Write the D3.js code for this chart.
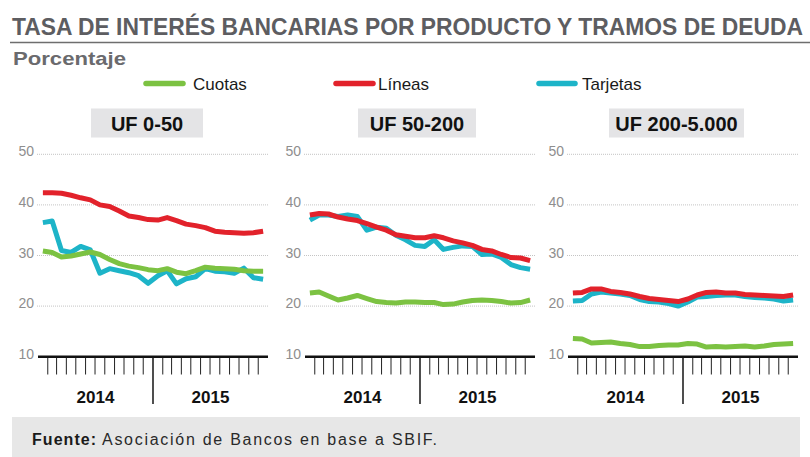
<!DOCTYPE html>
<html>
<head>
<meta charset="utf-8">
<script src="https://cdn.jsdelivr.net/npm/d3@7"></script>
<style>
  html, body { margin: 0; padding: 0; background: #fff; }
  svg { display: block; }
  text { font-family: "Liberation Sans", Arial, sans-serif; }
</style>
</head>
<body>
<svg id="chart" width="810" height="457"></svg>
<script>
// ---------- DATA ----------
const title = "TASA DE INTERÉS BANCARIAS POR PRODUCTO Y TRAMOS DE DEUDA";
const subtitle = "Porcentaje";
const seriesNames = ["Cuotas", "Líneas", "Tarjetas"];
const panelTitles = ["UF 0-50", "UF 50-200", "UF 200-5.000"];
const yTicks = [10, 20, 30, 40, 50];
const yearLabels = ["2014", "2015"];
const months = ["2014-01","2014-02","2014-03","2014-04","2014-05","2014-06",
                "2014-07","2014-08","2014-09","2014-10","2014-11","2014-12",
                "2015-01","2015-02","2015-03","2015-04","2015-05","2015-06",
                "2015-07","2015-08","2015-09","2015-10","2015-11","2015-12"];

const cuotas_0_50   = [30.9,30.6,29.7,29.9,30.3,30.7,30.2,29.2,28.4,27.9,27.6,27.2,27.0,27.4,26.7,26.4,27.0,27.7,27.5,27.4,27.3,27.0,26.9,26.9];
const lineas_0_50   = [42.4,42.4,42.3,41.9,41.4,41.0,40.0,39.7,38.8,37.8,37.5,37.1,37.0,37.5,36.9,36.2,35.9,35.5,34.8,34.6,34.5,34.4,34.5,34.8];
const tarjetas_0_50 = [36.5,36.8,31.0,30.6,31.8,31.1,26.5,27.4,27.0,26.6,26.0,24.5,26.0,27.0,24.4,25.4,25.8,27.4,26.9,26.8,26.5,27.5,25.6,25.3];

const cuotas_50_200   = [22.6,22.8,22.0,21.2,21.6,22.1,21.5,20.9,20.7,20.6,20.8,20.8,20.7,20.7,20.3,20.4,20.8,21.1,21.2,21.1,20.9,20.6,20.7,21.2];
const lineas_50_200   = [38.0,38.3,38.2,37.6,37.2,36.9,36.3,35.6,35.0,34.1,33.8,33.5,33.5,33.9,33.5,32.9,32.5,32.0,31.2,30.9,30.2,29.6,29.5,29.0];
const tarjetas_50_200 = [37.0,38.0,38.0,37.7,38.0,37.7,35.0,35.6,35.4,34.0,33.1,32.0,31.8,33.1,31.2,31.6,31.9,31.8,30.2,30.3,29.6,28.2,27.6,27.3];

const cuotas_200_5000   = [13.6,13.5,12.7,12.8,12.9,12.6,12.4,12.0,12.0,12.2,12.3,12.3,12.6,12.5,11.9,12.0,11.9,12.0,12.1,11.9,12.1,12.4,12.5,12.6];
const lineas_200_5000   = [22.6,22.7,23.4,23.4,22.9,22.7,22.4,21.9,21.5,21.3,21.1,20.9,21.4,22.2,22.7,22.8,22.6,22.6,22.3,22.2,22.1,22.0,21.9,22.2];
const tarjetas_200_5000 = [21.0,21.1,22.4,22.8,22.6,22.4,22.1,21.3,20.9,20.8,20.5,20.0,20.8,21.8,21.9,22.1,22.2,22.2,21.9,21.7,21.6,21.4,21.0,21.2];

const sourceLabel = "Fuente:";
const sourceText = "Asociación de Bancos en base a SBIF.";

// ---------- STYLE / LAYOUT ----------
const colors = { "Cuotas": "#7cc242", "Líneas": "#e2222b", "Tarjetas": "#1db4c8" };
const drawOrder = ["Tarjetas", "Cuotas", "Líneas"];
const panelX = [38, 305, 568];
const panelW = 230;
const headerBoxes = [[91, 112], [358, 118], [609, 135]];
const legendPos = [[146, 183, 193], [336, 373, 378], [539, 575, 582]];

const panels = [
  { title: panelTitles[0], series: { "Cuotas": cuotas_0_50, "Líneas": lineas_0_50, "Tarjetas": tarjetas_0_50 } },
  { title: panelTitles[1], series: { "Cuotas": cuotas_50_200, "Líneas": lineas_50_200, "Tarjetas": tarjetas_50_200 } },
  { title: panelTitles[2], series: { "Cuotas": cuotas_200_5000, "Líneas": lineas_200_5000, "Tarjetas": tarjetas_200_5000 } }
];

const svg = d3.select("#chart");
const parseMonth = d3.timeParse("%Y-%m");
const monthDates = months.map(parseMonth);
const midMonth = monthDates.map(d => new Date(d.getTime() + (d3.timeMonth.offset(d, 1) - d) / 2));

// ---------- HEADER ----------
svg.append("text").attr("x", 12).attr("y", 35)
  .attr("font-size", 23).attr("font-weight", "bold").attr("fill", "#5d5d61")
  .attr("textLength", 791).attr("lengthAdjust", "spacingAndGlyphs")
  .text(title);
svg.append("line").attr("x1", 10).attr("x2", 810).attr("y1", 42.5).attr("y2", 42.5)
  .attr("stroke", "#6e6e6e").attr("stroke-width", 1.5);
svg.append("text").attr("x", 13).attr("y", 65)
  .attr("font-size", 19).attr("font-weight", "bold").attr("fill", "#6a6a6d")
  .attr("textLength", 113).attr("lengthAdjust", "spacingAndGlyphs")
  .text(subtitle);

// legend
const legend = svg.append("g");
seriesNames.forEach((name, i) => {
  const [a, b, t] = legendPos[i];
  legend.append("line").attr("x1", a).attr("x2", b).attr("y1", 83.5).attr("y2", 83.5)
    .attr("stroke", colors[name]).attr("stroke-width", 5.5).attr("stroke-linecap", "round");
  legend.append("text").attr("x", t).attr("y", 89.5).attr("font-size", 17)
    .attr("fill", "#1a1a1a").text(name);
});

// ---------- PANELS ----------
const y = d3.scaleLinear().domain([10, 50]).range([356.7, 154.3]);

panels.forEach((p, pi) => {
  const x0 = panelX[pi];
  const x = d3.scaleTime()
    .domain([monthDates[0], d3.timeMonth.offset(monthDates[monthDates.length - 1], 1)])
    .range([x0, x0 + panelW]);
  const g = svg.append("g");

  // header box
  const [bx, bw] = headerBoxes[pi];
  g.append("rect").attr("x", bx).attr("y", 108.5).attr("width", bw).attr("height", 29)
    .attr("fill", "#e4e4e6");
  g.append("text").attr("x", bx + bw / 2).attr("y", 130.5).attr("text-anchor", "middle")
    .attr("font-size", 20).attr("font-weight", "bold").attr("fill", "#111")
    .text(p.title);

  // gridlines (dotted)
  g.selectAll(".grid").data(yTicks.filter(t => t > 10)).enter().append("line")
    .attr("x1", x0 - 1).attr("x2", x0 + panelW + 1)
    .attr("y1", d => y(d)).attr("y2", d => y(d))
    .attr("stroke", "#c4c4c4").attr("stroke-width", 1).attr("stroke-dasharray", "1,1");

  // y labels
  g.selectAll(".ylab").data(yTicks).enter().append("text")
    .attr("x", x0 - 4).attr("y", d => y(d) + 2).attr("text-anchor", "end")
    .attr("font-size", 14).attr("fill", "#8e8e8e")
    .text(d => d);

  // series lines
  drawOrder.forEach(name => {
    const vals = p.series[name];
    const line = d3.line().x((d, i) => x(midMonth[i])).y(d => y(d)).curve(d3.curveLinear);
    g.append("path").datum(vals).attr("d", line)
      .attr("fill", "none").attr("stroke", colors[name]).attr("stroke-width", 5)
      .attr("stroke-linejoin", "round").attr("stroke-linecap", "butt");
  });

  // x axis baseline
  g.append("line").attr("x1", x0).attr("x2", x0 + panelW)
    .attr("y1", y(10)).attr("y2", y(10))
    .attr("stroke", "#111").attr("stroke-width", 2.6);

  // month ticks (boundaries)
  const bounds = monthDates.slice(1);
  g.selectAll(".tick").data(bounds).enter().append("line")
    .attr("x1", d => x(d)).attr("x2", d => x(d))
    .attr("y1", y(10) + 1).attr("y2", d => d.getMonth() === 0 ? 404 : 374.5)
    .attr("stroke", "#222").attr("stroke-width", d => d.getMonth() === 0 ? 1.6 : 1);

  // year labels
  yearLabels.forEach(yr => {
    const start = parseMonth(yr + "-01");
    const end = d3.timeYear.offset(start, 1);
    g.append("text").attr("x", (x(start) + x(end)) / 2).attr("y", 403)
      .attr("text-anchor", "middle").attr("font-size", 17).attr("font-weight", "bold")
      .attr("fill", "#111").text(yr);
  });
});

// ---------- FOOTER ----------
svg.append("rect").attr("x", 12).attr("y", 417).attr("width", 788).attr("height", 40)
  .attr("fill", "#e7e7e7");
svg.append("text").attr("x", 32).attr("y", 445).attr("font-size", 16).attr("font-weight", "bold")
  .attr("fill", "#1a1a1a").attr("textLength", 64).attr("lengthAdjust", "spacing").text(sourceLabel);
svg.append("text").attr("x", 102).attr("y", 445).attr("font-size", 16)
  .attr("fill", "#2a2a2a").attr("textLength", 335).attr("lengthAdjust", "spacing").text(sourceText);
</script>
</body>
</html>
